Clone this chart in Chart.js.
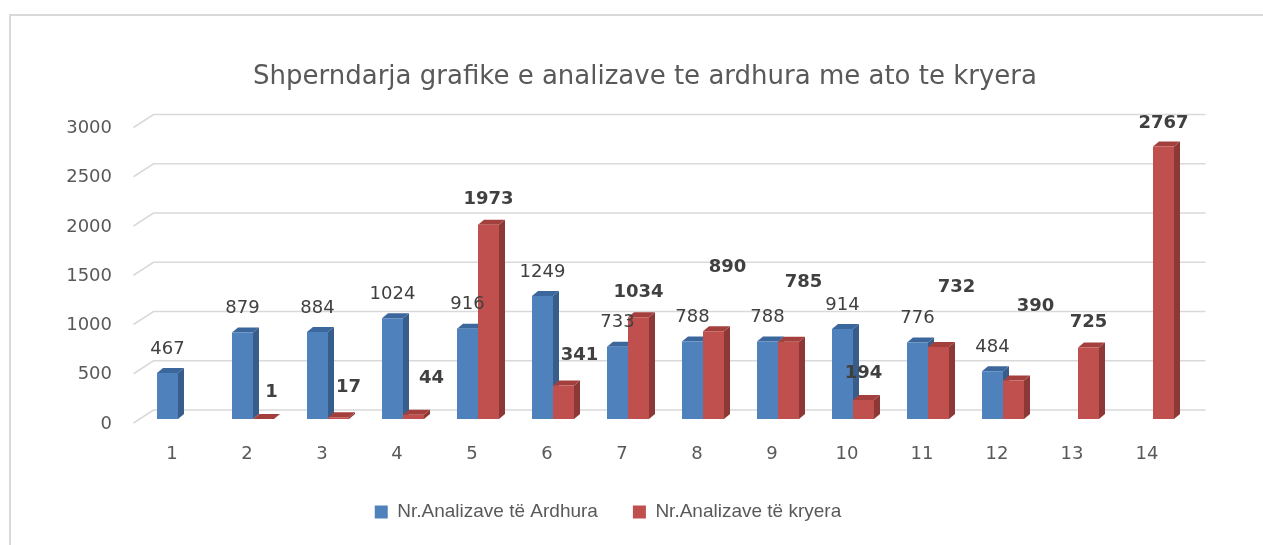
<!DOCTYPE html>
<html>
<head>
<meta charset="utf-8">
<script src="https://cdn.jsdelivr.net/npm/chart.js@4"></script>
<style>
	html, body { margin: 0; padding: 0; background: #fff; }
	#wrap { position: relative; width: 1263px; height: 545px; }
	#frame { position: absolute; left: 9px; top: 14px; width: 1260px; height: 540px;
		border-left: 2px solid #d9d9d9; border-top: 2px solid #d9d9d9; }
	canvas { position: absolute; left: 0; top: 0; }
</style>
</head>
<body>
<div id="wrap">
	<div id="frame"></div>
	<canvas id="c" width="1263" height="545"></canvas>
</div>
<script>
const categories = ['1', '2', '3', '4', '5', '6', '7', '8', '9', '10', '11', '12', '13', '14']
const ardhura = [467, 879, 884, 1024, 916, 1249, 733, 788, 788, 914, 776, 484, null, null]
const kryera = [null, 1, 17, 44, 1973, 341, 1034, 890, 785, 194, 732, 390, 725, 2767]
const yTicks = [0, 500, 1000, 1500, 2000, 2500, 3000]

// label nudges for the red series (the labels were dragged around in the original)
const kryeraLabelDx = [0, 8, 10, 18, 0, 16, 0, 14, 15, 0, 18, 22, 0, 0]
const kryeraLabelLift = [0, 2, 5, 11, 0, 5, 0, 39, 34, 2, 35, 49, 0, -2]

const NUM_FONT = '"DejaVu Sans", sans-serif'
const DEPTH_X = 6, DEPTH_Y = 5
const faces = [
	{ side: '#385d8a', top: '#3c679c' },
	{ side: '#8c3836', top: '#a3403d' }
]

// fake 3d: side and top faces drawn behind the front faces
const bars3d = {
	id: 'bars3d',
	beforeDatasetsDraw(chart) {
		const ctx = chart.ctx
		chart.data.datasets.forEach((ds, i) => {
			chart.getDatasetMeta(i).data.forEach((bar, j) => {
				if (ds.data[j] == null) return
				const { x, y, base, width } = bar.getProps(['x', 'y', 'base', 'width'], true)
				const l = x - width / 2, r = x + width / 2
				ctx.save()
				ctx.fillStyle = faces[i].side
				ctx.beginPath()
				ctx.moveTo(r, y)
				ctx.lineTo(r + DEPTH_X, y - DEPTH_Y)
				ctx.lineTo(r + DEPTH_X, base - DEPTH_Y)
				ctx.lineTo(r, base)
				ctx.closePath()
				ctx.fill()
				ctx.fillStyle = faces[i].top
				ctx.beginPath()
				ctx.moveTo(l, y)
				ctx.lineTo(l + DEPTH_X, y - DEPTH_Y)
				ctx.lineTo(r + DEPTH_X, y - DEPTH_Y)
				ctx.lineTo(r, y)
				ctx.closePath()
				ctx.fill()
				ctx.restore()
			})
		})
	}
}

// floor-style gridlines: short slanted stub on the left, then the back line
const grid3d = {
	id: 'grid3d',
	beforeDatasetsDraw(chart) {
		const ctx = chart.ctx
		const ys = chart.scales.y
		const area = chart.chartArea
		ctx.save()
		ctx.strokeStyle = '#d9d9d9'
		ctx.lineWidth = 1.5
		yTicks.forEach(v => {
			const yb = ys.getPixelForValue(v)
			ctx.beginPath()
			ctx.moveTo(area.left - 7, yb + 4)
			ctx.lineTo(area.left + 13, yb - 9)
			ctx.lineTo(area.right + 15, yb - 9)
			ctx.stroke()
		})
		ctx.restore()
	}
}

const valueLabels = {
	id: 'valueLabels',
	afterDatasetsDraw(chart) {
		const ctx = chart.ctx
		ctx.save()
		ctx.textAlign = 'center'
		ctx.textBaseline = 'middle'
		ctx.fillStyle = '#404040'
		chart.data.datasets.forEach((ds, i) => {
			chart.getDatasetMeta(i).data.forEach((bar, j) => {
				const v = ds.data[j]
				if (v == null) return
				const { x, y } = bar.getProps(['x', 'y'], true)
				if (i === 0) {
					ctx.font = '18px ' + NUM_FONT
					ctx.fillText(String(v), x, y - 24)
				} else {
					ctx.font = 'bold 18px ' + NUM_FONT
					ctx.fillText(String(v), x + kryeraLabelDx[j], y - 25 - kryeraLabelLift[j])
				}
			})
		})
		ctx.restore()
	}
}

// the title sits a bit right of the legend's centre in the original
const titleShift = {
	id: 'titleShift',
	afterLayout(chart) {
		chart.titleBlock.left += 37
		chart.titleBlock.right += 37
	}
}

new Chart(document.getElementById('c'), {
	type: 'bar',
	data: {
		labels: categories,
		datasets: [
			{ label: 'Nr.Analizave të Ardhura', data: ardhura, backgroundColor: '#4f81bd' },
			{ label: 'Nr.Analizave të kryera', data: kryera, backgroundColor: '#c0504d' }
		]
	},
	options: {
		responsive: false,
		animation: false,
		layout: { padding: { top: 60, left: 25.5, right: 72.5, bottom: 13.5 } },
		datasets: { bar: { categoryPercentage: 0.56, barPercentage: 1, skipNull: false } },
		scales: {
			x: {
				afterFit: s => { s.height = 48.5 },
				grid: { display: false, drawTicks: false },
				border: { display: false },
				ticks: { color: '#595959', font: { family: NUM_FONT, size: 18 }, padding: 25, labelOffset: -6 }
			},
			y: {
				min: 0, max: 3000,
				afterFit: s => { s.width = 115 },
				afterBuildTicks: s => { s.ticks = yTicks.map(v => ({ value: v })) },
				grid: { display: false, drawTicks: false },
				border: { display: false },
				ticks: {
					color: '#595959', font: { family: NUM_FONT, size: 18 }, padding: 28.5, labelOffset: 5,
					callback: v => String(v)
				}
			}
		},
		plugins: {
			title: {
				display: true,
				text: 'Shperndarja grafike e analizave te ardhura me ato te kryera',
				color: '#595959',
				font: { family: NUM_FONT, size: 26, weight: 'normal' },
				padding: { top: 2, bottom: 30.3 }
			},
			legend: {
				position: 'bottom',
				labels: {
					color: '#595959',
					font: { family: '"Liberation Sans", sans-serif', size: 19 },
					boxWidth: 13, boxHeight: 13, padding: 35
				}
			},
			tooltip: { enabled: false }
		}
	},
	plugins: [grid3d, bars3d, valueLabels, titleShift]
})
</script>
</body>
</html>
